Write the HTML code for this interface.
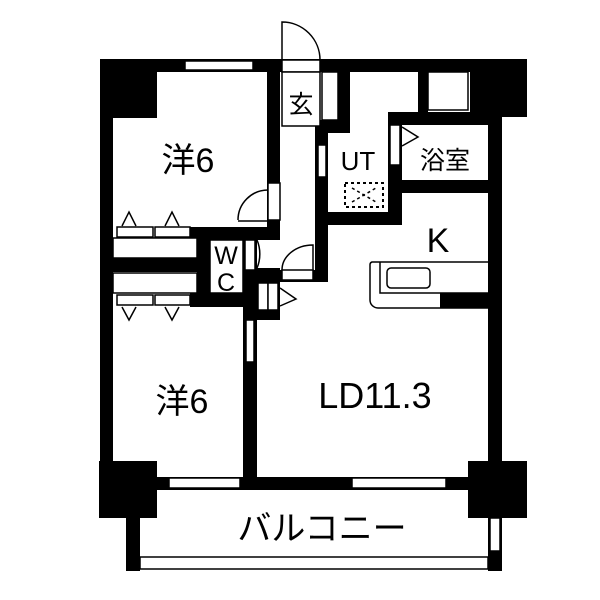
<!DOCTYPE html>
<html><head><style>body{margin:0;background:#fff}svg{display:block}text{font-family:"Liberation Sans","Noto Sans CJK JP",sans-serif;fill:#000}</style></head><body>
<svg width="600" height="600" viewBox="0 0 600 600">
<g fill="#000">
<rect x="100" y="59" width="427" height="13"/>
<rect x="100" y="59" width="13" height="410"/>
<rect x="100" y="59" width="57" height="59"/>
<rect x="470" y="59" width="57" height="58"/>
<rect x="99" y="461" width="58" height="57"/>
<rect x="468" y="461" width="59" height="57"/>
<rect x="157" y="477" width="311" height="13"/>
<rect x="488" y="112" width="14" height="350"/>
<rect x="267" y="59" width="13" height="178"/>
<rect x="338" y="59" width="12" height="74"/>
<rect x="315" y="120" width="35" height="13"/>
<rect x="315" y="120" width="13" height="162"/>
<rect x="418" y="59" width="10" height="55"/>
<rect x="388" y="112" width="114" height="13"/>
<rect x="388" y="112" width="14" height="113"/>
<rect x="328" y="212" width="74" height="13"/>
<rect x="402" y="180" width="86" height="13"/>
<rect x="190" y="227" width="90" height="13"/>
<rect x="197" y="227" width="13" height="80"/>
<rect x="113" y="258" width="97" height="14"/>
<rect x="190" y="293" width="67" height="14"/>
<rect x="243" y="227" width="14" height="250"/>
<rect x="243" y="268" width="37" height="52"/>
<rect x="280" y="270" width="48" height="12"/>
<rect x="126" y="518" width="14" height="53"/>
<rect x="488" y="518" width="14" height="53"/>
</g>
<g fill="#fff" stroke="#000" stroke-width="1.5">
<rect x="185" y="61" width="68" height="9"/>
<rect x="282" y="60" width="38" height="12"/>
<rect x="322" y="72" width="16" height="48"/>
<rect x="428" y="72" width="40" height="38"/>
<rect x="318" y="145" width="8" height="32"/>
<rect x="390" y="125" width="10" height="40"/>
<rect x="169" y="478" width="71" height="10"/>
<rect x="352" y="478" width="94" height="10"/>
<rect x="246" y="320" width="8" height="42"/>
<rect x="490" y="518" width="10" height="33"/>
<rect x="140" y="557" width="348" height="12"/>
<rect x="117" y="227" width="36" height="10"/>
<rect x="155" y="227" width="35" height="10"/>
<rect x="113" y="238" width="84" height="20"/>
<rect x="113" y="273" width="84" height="20"/>
<rect x="117" y="295" width="36" height="10"/>
<rect x="155" y="295" width="35" height="10"/>
<rect x="210" y="240" width="33" height="53"/>
<rect x="268" y="183" width="12" height="37"/>
<rect x="245" y="240" width="10" height="30"/>
<rect x="282" y="270" width="31" height="10"/>
<rect x="258" y="283" width="10" height="27"/>
<rect x="268" y="283" width="10" height="27"/>
<rect x="282" y="72" width="38" height="54"/>
</g>
<g fill="none" stroke="#000" stroke-width="1.5">
<path d="M282 60 V22 A38 38 0 0 1 320 60"/>
<path d="M238 220 A30 30 0 0 1 268 190 M238 221 H268"/>
<path d="M257 240 A21 28 0 0 1 257 268"/>
<path d="M282 270 A31 25 0 0 1 313 245 V270"/>
<path d="M280 288 L296 299 L280 306"/>
<path d="M402 127 L418 137 L402 146"/>
<path d="M122 226 L129 212 L136 226 M165 226 L172 212 L179 226"/>
<path d="M122 307 L129 320 L136 307 M165 307 L172 320 L179 307"/>
<rect x="345" y="183" width="38" height="24" stroke-dasharray="3,3" stroke-width="2"/>
<path d="M352 188 L376 202 M352 202 L376 188" stroke-dasharray="3,3"/>
<path d="M488 262 H372 A3 3 0 0 0 370 265 V300 A8 8 0 0 0 378 308 H488"/>
<path d="M380 262 V293 H488"/>
<rect x="387" y="268" width="43" height="20" rx="4"/>
</g>
<rect x="440" y="293" width="48" height="15" fill="#000"/>
<text x="188" y="172" font-size="34" text-anchor="middle">洋6</text>
<text x="182" y="413" font-size="34" text-anchor="middle">洋6</text>
<text x="301" y="113" font-size="25" text-anchor="middle">玄</text>
<text x="358" y="170" font-size="26" text-anchor="middle">UT</text>
<text x="445" y="169" font-size="25" text-anchor="middle">浴室</text>
<text x="438" y="252" font-size="34" text-anchor="middle">K</text>
<text x="375" y="408" font-size="36" text-anchor="middle">LD11.3</text>
<text x="226" y="264" font-size="25" text-anchor="middle">W</text>
<text x="226" y="291" font-size="25" text-anchor="middle">C</text>
<text x="322" y="540" font-size="34" text-anchor="middle">バルコニー</text>
</svg>
</body></html>
